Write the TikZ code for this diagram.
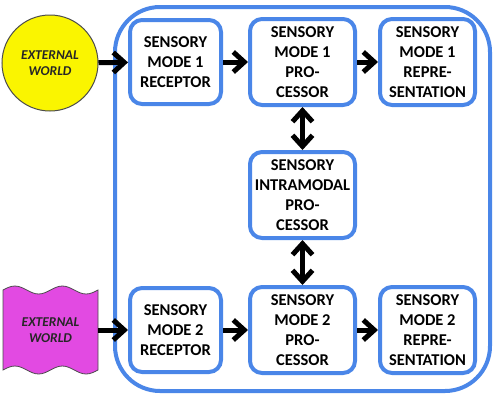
\documentclass[tikz,border=0pt]{standalone}
\usepackage{fontspec}
\setmainfont{Carlito}
\usetikzlibrary{arrows.meta}
\definecolor{boxblue}{RGB}{74,134,232}
\definecolor{worldyellow}{RGB}{250,245,0}
\definecolor{worldpink}{RGB}{226,74,226}
\begin{document}
\begin{tikzpicture}[x=1pt,y=-1pt,
	box/.style={draw=boxblue, line width=4pt, rounded corners=12pt, fill=white, align=center, inner sep=0pt, font=\fontsize{16.5}{20}\selectfont\bfseries},
	world/.style={align=center, inner sep=0pt, font=\fontsize{13.5}{16}\selectfont\bfseries\itshape, text=black!85},
	link/.style={line width=5pt, >={Straight Barb[length=11pt,width=20pt]}}]
	\def\wave{4}
	\useasboundingbox (0,0) rectangle (500,400);
	
	\draw[boxblue, line width=4pt, rounded corners=45pt] (115,7) rectangle (490,391);
	
	\node[circle, draw=black!70, line width=1pt, fill=worldyellow, minimum size=96pt, world] (ext1) at (50,63) {EXTERNAL\\WORLD};
	\filldraw[draw=black!70, line width=0.8pt, fill=worldpink]
	(3,290) sin (14.875,290-\wave) cos (26.75,290) sin (38.625,290+\wave) cos (50.5,290)
	sin (62.375,290-\wave) cos (74.25,290) sin (86.125,290+\wave) cos (98,290) -- (98,370)
	sin (86.125,370+\wave) cos (74.25,370) sin (62.375,370-\wave) cos (50.5,370)
	sin (38.625,370+\wave) cos (26.75,370) sin (14.875,370-\wave) cos (3,370) -- cycle;
	\node[world, minimum width=95pt, minimum height=80pt] (ext2) at (50.5,330) {EXTERNAL\\WORLD};
	
	\node[box, minimum width=91pt, minimum height=84pt] (rec1) at (175.5,62) {SENSORY\\MODE 1\\RECEPTOR};
	\node[box, minimum width=105pt, minimum height=86pt] (proc1) at (302.5,62) {SENSORY\\MODE 1\\PRO-\\CESSOR};
	\node[box, minimum width=95pt, minimum height=86pt] (rep1) at (427.5,62) {SENSORY\\MODE 1\\REPRE-\\SENTATION};
	\node[box, minimum width=105pt, minimum height=86pt] (intra) at (302.5,195) {SENSORY\\INTRAMODAL\\PRO-\\CESSOR};
	\node[box, minimum width=91pt, minimum height=84pt] (rec2) at (175.5,330) {SENSORY\\MODE 2\\RECEPTOR};
	\node[box, minimum width=105pt, minimum height=86pt] (proc2) at (302.5,330) {SENSORY\\MODE 2\\PRO-\\CESSOR};
	\node[box, minimum width=95pt, minimum height=86pt] (rep2) at (427.5,330) {SENSORY\\MODE 2\\REPRE-\\SENTATION};
	
	\draw[link,->] (ext1) -- (rec1);
	\draw[link,->] (rec1) -- (proc1);
	\draw[link,->] (proc1) -- (rep1);
	\draw[link,<->] (proc1) -- (intra);
	\draw[link,<->] (intra) -- (proc2);
	\draw[link,->] (ext2) -- (rec2);
	\draw[link,->] (rec2) -- (proc2);
	\draw[link,->] (proc2) -- (rep2);
\end{tikzpicture}
\end{document}
